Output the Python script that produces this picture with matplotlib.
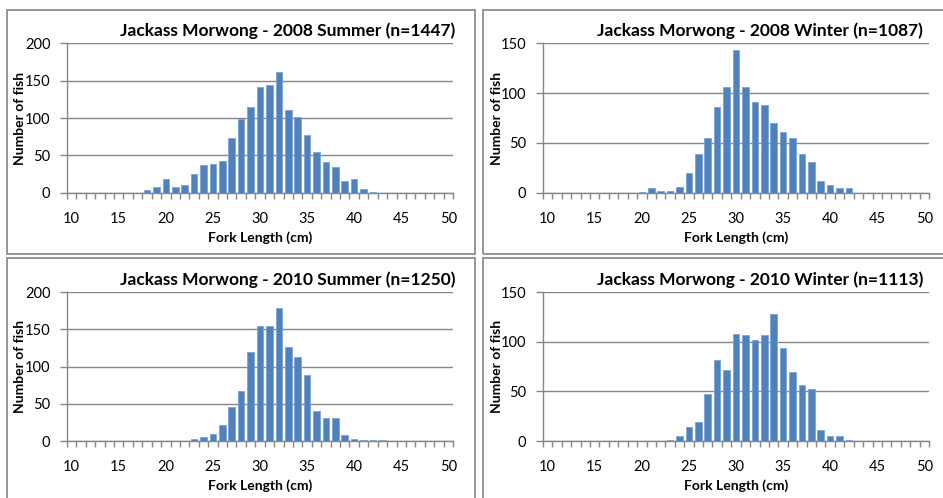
import numpy as np
import matplotlib
matplotlib.use("Agg")
import matplotlib.pyplot as plt
from matplotlib.patches import Rectangle

# Fork length categories (cm), one bar per centimetre
fork_lengths = np.arange(10, 51)
length_ticks = [10, 15, 20, 25, 30, 35, 40, 45, 50]

# Length frequency counts, 10 cm through 50 cm
summer_2008 = [0, 0, 0, 0, 0, 0, 0, 0,
               3, 8, 18, 7, 10, 25, 37, 38, 42, 73, 99, 115, 141, 144, 161,
               111, 101, 77, 55, 41, 35, 15, 19, 5, 1,
               0, 0, 0, 0, 0, 0, 0, 0]
winter_2008 = [0, 0, 0, 0, 0, 0, 0, 0, 0, 0,
               1, 5, 2, 2, 6, 20, 39, 55, 86, 106, 143, 106, 91, 88, 70,
               61, 55, 39, 31, 12, 8, 5, 5,
               0, 0, 0, 0, 0, 0, 0, 0]
summer_2010 = [0, 0, 0, 0, 0, 0, 0, 0, 0, 0, 0, 0, 0,
               3, 5, 9, 21, 46, 67, 120, 155, 155, 179, 127, 113, 89,
               41, 31, 31, 8, 3, 2, 1, 1,
               0, 0, 0, 0, 0, 0, 0]
winter_2010 = [0, 0, 0, 0, 0, 0, 0, 0, 0, 0, 0, 0, 0,
               1, 5, 14, 19, 47, 82, 72, 108, 107, 102, 107, 128, 94,
               70, 56, 52, 11, 5, 5, 1,
               0, 0, 0, 0, 0, 0, 0, 0]

titles = ["Jackass Morwong - 2008 Summer (n=1447)",
          "Jackass Morwong - 2008 Winter (n=1087)",
          "Jackass Morwong - 2010 Summer (n=1250)",
          "Jackass Morwong - 2010 Winter (n=1113)"]
series = [summer_2008, winter_2008, summer_2010, winter_2010]
y_max = [200, 150, 200, 150]

W, H = 943, 498
plt.rcParams["font.family"] = ["Lato", "DejaVu Sans"]

BAR = "#4f81bd"
BAR_EDGE = "#7ea3d2"
GRID = "#868686"
FRAME = "#8c8c8c"

fig = plt.figure(figsize=(W / 100, H / 100), dpi=100)


def fx(px):
    return px / W


def fy(py):
    return 1 - py / H


# pixel layout of each chart: frame box, plot area and text anchors
frames = [(7, 10, 468, 244), (483, 10, 470, 244),
          (7, 258, 468, 244), (483, 258, 470, 244)]
plots = [(67, 43.3, 453, 192.7), (543, 43.3, 929, 192.7),
         (67, 292.3, 453, 441), (543, 292.3, 929, 441)]
title_right = [455, 923, 455, 923]
ylabel_x = [20, 497, 20, 497]

for i in range(4):
    bx, by, bw, bh = frames[i]
    fig.add_artist(Rectangle((fx(bx), fy(by + bh)), fx(bw), bh / H,
                             transform=fig.transFigure, fill=False,
                             edgecolor=FRAME, linewidth=1.3))

    x0, y0, x1, y1 = plots[i]
    ax = fig.add_axes([fx(x0), fy(y1), fx(x1 - x0), (y1 - y0) / H])
    ax.bar(fork_lengths, series[i], width=0.7, color=BAR,
           edgecolor=BAR_EDGE, linewidth=0.6, zorder=3)

    ax.set_xlim(9.5, 50.5)
    ax.set_ylim(0, y_max[i])
    ax.set_yticks(np.arange(0, y_max[i] + 1, 50))
    ax.yaxis.grid(True, color=GRID, linewidth=1.0, zorder=0)

    ax.set_xticks(length_ticks)
    ax.set_xticks(np.arange(9.5, 51, 1), minor=True)
    ax.tick_params(axis="x", which="major", length=0, pad=14,
                   labelsize=10.5)
    ax.tick_params(axis="x", which="minor", length=4, width=1,
                   color=GRID, direction="out")
    ax.tick_params(axis="y", length=5, width=1, color=GRID, pad=7,
                   labelsize=10.5)

    for side in ["top", "right"]:
        ax.spines[side].set_visible(False)
    for side in ["left", "bottom"]:
        ax.spines[side].set_color(GRID)
        ax.spines[side].set_linewidth(1.0)

    fig.text(fx(title_right[i]), fy(y0 - 13), titles[i], ha="right",
             va="center", fontsize=12.5, fontweight="bold")
    fig.text(fx(ylabel_x[i]), fy((y0 + y1) / 2), "Number of fish",
             rotation=90, ha="center", va="center", fontsize=10,
             fontweight="bold")
    fig.text(fx((x0 + x1) / 2), fy(y1 + 45), "Fork Length (cm)",
             ha="center", va="center", fontsize=10, fontweight="bold")

fig.savefig("out.png", dpi=100, facecolor="white")
